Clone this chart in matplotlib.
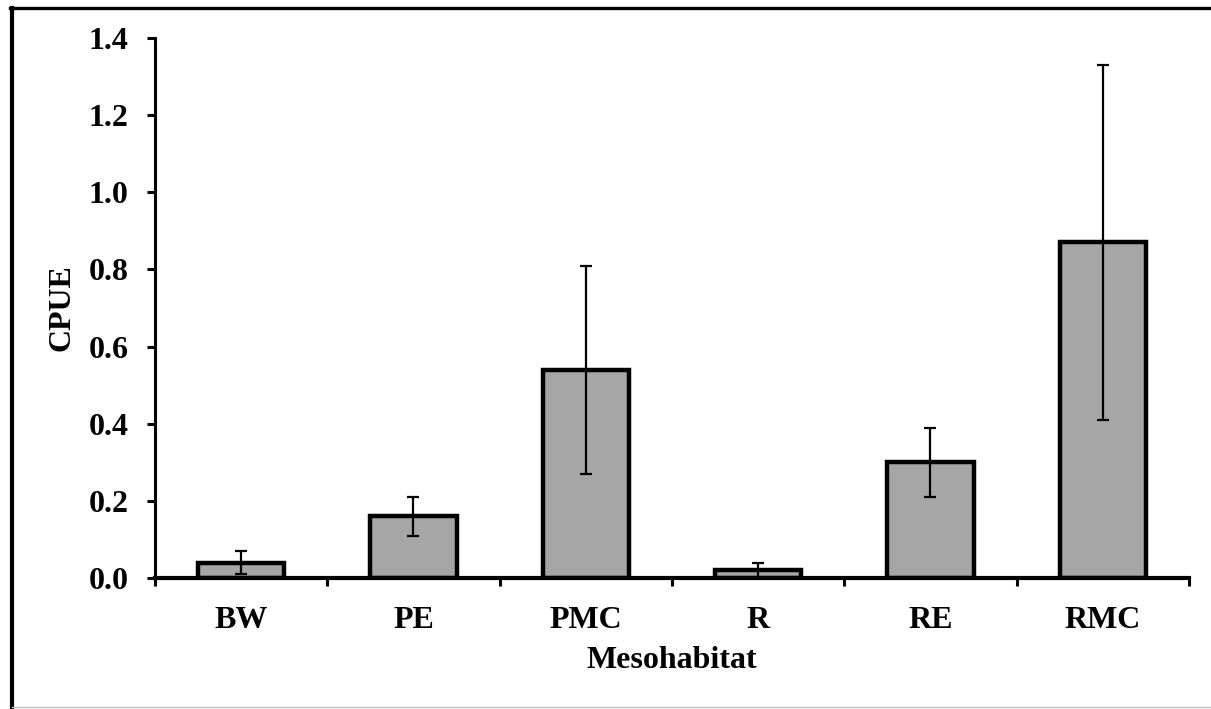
import numpy as np
import matplotlib
matplotlib.use("Agg")
import matplotlib.pyplot as plt
from matplotlib.lines import Line2D
from matplotlib.ticker import MultipleLocator, FixedLocator

habitats = ["BW", "PE", "PMC", "R", "RE", "RMC"]
cpue = [0.04, 0.16, 0.54, 0.02, 0.30, 0.87]
err = [0.03, 0.05, 0.27, 0.02, 0.09, 0.46]

plt.rcParams['font.family'] = ['Liberation Serif', 'DejaVu Serif']
plt.rcParams['font.weight'] = 'bold'

W, H = 1211, 709
fig = plt.figure(figsize=(W / 100, H / 100), dpi=100)
ax = fig.add_axes([155 / W, 1 - 578 / H, (1189 - 155) / W, (578 - 38) / H])

x = np.arange(len(habitats))
ax.bar(x, cpue, width=0.5, color='#a6a6a6', edgecolor='black', linewidth=3.2, zorder=2)
ax.errorbar(x, cpue, yerr=err, fmt='none', ecolor='black', elinewidth=1.6,
            capsize=4.5, capthick=1.6, zorder=3)

ax.set_xlim(-0.5, len(habitats) - 0.5)
ax.set_ylim(0, 1.4)
ax.yaxis.set_major_locator(MultipleLocator(0.2))
ax.yaxis.set_major_formatter(matplotlib.ticker.FormatStrFormatter('%.1f'))

ax.set_xticks(x)
ax.set_xticklabels(habitats)
ax.xaxis.set_minor_locator(FixedLocator(np.arange(-0.5, len(habitats), 1.0)))
ax.tick_params(axis='x', which='major', length=0, pad=20, labelsize=23)
ax.tick_params(axis='x', which='minor', length=6, width=2.2, direction='out')
ax.tick_params(axis='y', which='major', length=6, width=2.2, direction='out',
               pad=13, labelsize=23)

for lab in ax.get_xticklabels() + ax.get_yticklabels():
    lab.set_fontweight('bold')

ax.spines['top'].set_visible(False)
ax.spines['right'].set_visible(False)
ax.spines['left'].set_linewidth(2.2)
ax.spines['bottom'].set_linewidth(3)

ax.set_xlabel("Mesohabitat", fontsize=23, fontweight='bold', labelpad=8)
ax.set_ylabel("CPUE", fontsize=23, fontweight='bold', labelpad=9)

# outer frame
fig.add_artist(Line2D([12 / W, 12 / W], [0, 1 - 8 / H], transform=fig.transFigure,
                      color='black', linewidth=3))
fig.add_artist(Line2D([10 / W, 1], [1 - 8 / H, 1 - 8 / H], transform=fig.transFigure,
                      color='black', linewidth=2.4))
fig.add_artist(Line2D([12 / W, 1], [1 - 707 / H, 1 - 707 / H], transform=fig.transFigure,
                      color='#c0c0c0', linewidth=1))

fig.savefig("out.png", dpi=100)
